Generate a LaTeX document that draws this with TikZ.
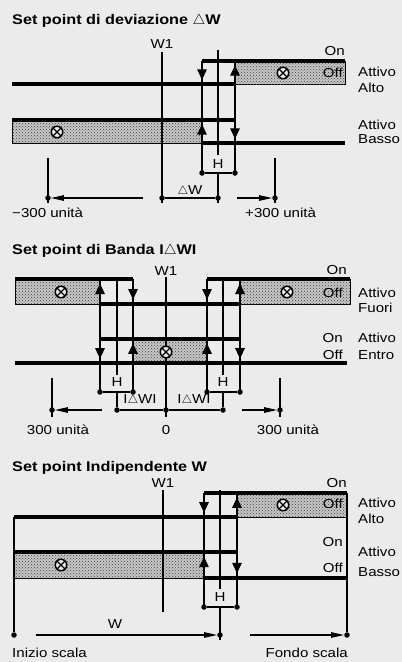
\documentclass[tikz,border=0pt]{standalone}
\usepackage{fontspec}
\setmainfont[FakeStretch=1.16]{Liberation Sans}
\usepackage{tikz}
\usetikzlibrary{arrows.meta,patterns,decorations.markings}
\tikzstyle{bar}=[line width=3.2pt]
\tikzstyle{fine}=[line width=1.2pt]
\tikzstyle{litzone}=[fill=black!22,postaction={pattern=crosshatch dots,pattern color=black!75},draw,line width=1pt]
\tikzstyle{trip}=[line width=1.2pt,postaction={decorate},decoration={markings,mark=at position 0.82 with {\arrow{Triangle[width=9.5pt,length=10.5pt]}}}]
\tikzstyle{knot}=[circle,fill,inner sep=0pt,minimum size=5.5pt]
\tikzstyle{span}=[line width=1.2pt,-{Triangle[length=13pt,width=5.5pt]}]
\tikzstyle{lamp}=[circle,draw,line width=1.5pt,fill=black!8,minimum size=11.5pt,inner sep=0pt,path picture={\draw[line width=1.4pt] (path picture bounding box.north west) -- (path picture bounding box.south east) (path picture bounding box.north east) -- (path picture bounding box.south west);}]
\tikzstyle{lbl}=[font=\fontsize{13}{15}\selectfont,inner sep=0pt]
\tikzstyle{ttl}=[font=\bfseries\fontsize{14}{16}\selectfont,inner sep=0pt,anchor=base west]

\begin{document}
\begin{tikzpicture}[x=1pt,y=-1pt]
	\fill[black!8] (0,0) rectangle (402,662);
	\useasboundingbox (0,0) rectangle (402,662);

	\node[ttl] (t1) at (12,24) {Set point di deviazione $\triangle$W};
	\draw[litzone] (235,61) rectangle (345,84);
	\draw[litzone] (12,120) rectangle (202,143);
	\draw[bar] (202,61) -- (345,61);
	\draw[bar] (12,84) -- (235,84);
	\draw[bar] (12,120) -- (235,120);
	\draw[bar] (202,143) -- (345,143);
	\draw[fine] (202,61) -- (202,173);
	\draw[fine] (235,61) -- (235,173);
	\draw[fine] (218,50) -- (218,155);
	\draw[fine] (162,52) -- (162,203);
	\draw[trip] (202,61) -- (202,84);
	\draw[trip] (235,84) -- (235,61);
	\draw[trip] (202,143) -- (202,120);
	\draw[trip] (235,120) -- (235,143);
	\node[lamp] (l1) at (283,73) {};
	\node[lamp] (l2) at (57,132) {};
	\node[lbl,anchor=base] (w1a) at (162,48) {W1};
	\node[lbl,anchor=base east] (on1) at (345,55) {On};
	\node[lbl,anchor=base east] (off1) at (343,77) {Off};
	\node[lbl,anchor=base west] (at1) at (358,76) {Attivo};
	\node[lbl,anchor=base west] (al1) at (358,92) {Alto};
	\node[lbl,anchor=base west] (at2) at (358,129) {Attivo};
	\node[lbl,anchor=base west] (ba2) at (358,143) {Basso};
	\node[knot] (h1l) at (202,173) {};
	\node[knot] (h1r) at (235,173) {};
	\draw[fine] (h1l) -- (h1r);
	\node[lbl] (h1) at (218,164) {H};
	\coordinate (h1m) at (218,173);
	\coordinate (h1e) at (218,203);
	\draw[fine] (h1m) -- (h1e);
	\node[knot] (w1d) at (162,198) {};
	\node[knot] (dw1) at (218,198) {};
	\draw[fine] (w1d) -- (dw1);
	\node[lbl,anchor=base] (dwl) at (190,194) {$\triangle$W};
	\node[knot] (m300) at (48,198) {};
	\node[knot] (p300) at (275,198) {};
	\draw[fine] (48,158) -- (48,203);
	\draw[fine] (275,158) -- (275,203);
	\coordinate (s1a) at (143,198);
	\coordinate (s1b) at (237,198);
	\draw[span] (s1a) -- (m300);
	\draw[span] (s1b) -- (p300);
	\node[lbl,anchor=base west] (u1) at (12,217) {−300 unità};
	\node[lbl,anchor=base west] (u2) at (245,217) {+300 unità};

	\node[ttl] (t2) at (12,254) {Set point di Banda I$\triangle$WI};
	\draw[litzone] (15,279) rectangle (100,304);
	\draw[litzone] (240,279) rectangle (350,304);
	\draw[litzone] (133,339) rectangle (207,363);
	\draw[bar] (15,279) -- (133,279);
	\draw[bar] (207,279) -- (350,279);
	\draw[bar] (100,304) -- (240,304);
	\draw[bar] (100,339) -- (240,339);
	\draw[bar] (15,363) -- (347,363);
	\draw[fine] (100,279) -- (100,392);
	\draw[fine] (133,279) -- (133,392);
	\draw[fine] (207,279) -- (207,392);
	\draw[fine] (240,279) -- (240,392);
	\draw[fine] (117,279) -- (117,375);
	\draw[fine] (223,279) -- (223,375);
	\draw[fine] (166,277) -- (166,417);
	\draw[trip] (100,304) -- (100,279);
	\draw[trip] (133,279) -- (133,304);
	\draw[trip] (207,279) -- (207,304);
	\draw[trip] (240,304) -- (240,279);
	\draw[trip] (100,339) -- (100,363);
	\draw[trip] (133,363) -- (133,339);
	\draw[trip] (207,363) -- (207,339);
	\draw[trip] (240,339) -- (240,363);
	\node[lamp] (l3) at (61,292) {};
	\node[lamp] (l4) at (287,292) {};
	\node[lamp] (l5) at (166,352) {};
	\node[lbl,anchor=base] (w1b) at (166,275) {W1};
	\node[lbl,anchor=base east] (on3) at (347,274) {On};
	\node[lbl,anchor=base east] (off3) at (343,297) {Off};
	\node[lbl,anchor=base west] (at3) at (358,297) {Attivo};
	\node[lbl,anchor=base west] (fu3) at (358,312) {Fuori};
	\node[lbl,anchor=base east] (on4) at (343,342) {On};
	\node[lbl,anchor=base east] (off4) at (343,359) {Off};
	\node[lbl,anchor=base west] (at4) at (358,342) {Attivo};
	\node[lbl,anchor=base west] (en4) at (358,359) {Entro};
	\node[knot] (h2a) at (100,392) {};
	\node[knot] (h2b) at (133,392) {};
	\node[knot] (h2c) at (207,392) {};
	\node[knot] (h2d) at (240,392) {};
	\draw[fine] (h2a) -- (h2b);
	\draw[fine] (h2c) -- (h2d);
	\node[lbl] (h2) at (117,382) {H};
	\node[lbl] (h3) at (223,382) {H};
	\node[knot] (bl) at (117,410) {};
	\node[knot] (zero) at (166,410) {};
	\node[knot] (br) at (223,410) {};
	\draw[fine] (117,392) -- (bl);
	\draw[fine] (223,392) -- (br);
	\draw[fine] (bl) -- (zero) -- (br);
	\node[lbl,anchor=base] (dw2) at (140,403) {I$\triangle$WI};
	\node[lbl,anchor=base] (dw3) at (194,403) {I$\triangle$WI};
	\node[knot] (m2) at (52,410) {};
	\node[knot] (p2) at (280,410) {};
	\draw[fine] (52,378) -- (52,417);
	\draw[fine] (280,378) -- (280,417);
	\coordinate (s2a) at (102,410);
	\coordinate (s2b) at (242,410);
	\draw[span] (s2a) -- (m2);
	\draw[span] (s2b) -- (p2);
	\node[lbl,anchor=base] (u3) at (58,434) {300 unità};
	\node[lbl,anchor=base] (u0) at (166,434) {0};
	\node[lbl,anchor=base] (u4) at (288,434) {300 unità};

	\node[ttl] (t3) at (12,471) {Set point Indipendente W};
	\draw[litzone] (237,493) rectangle (347,517);
	\draw[litzone] (14,552) rectangle (204,578);
	\draw[bar] (204,493) -- (347,493);
	\draw[bar] (14,517) -- (237,517);
	\draw[bar] (14,552) -- (237,552);
	\draw[bar] (204,578) -- (347,578);
	\draw[fine] (204,493) -- (204,607);
	\draw[fine] (237,493) -- (237,607);
	\draw[fine] (220,490) -- (220,589);
	\draw[fine] (163,490) -- (163,612);
	\draw[trip] (204,493) -- (204,517);
	\draw[trip] (237,517) -- (237,493);
	\draw[trip] (204,578) -- (204,552);
	\draw[trip] (237,552) -- (237,578);
	\node[lamp] (l6) at (283,505) {};
	\node[lamp] (l7) at (61,565) {};
	\node[lbl,anchor=base] (w1c) at (163,487) {W1};
	\node[lbl,anchor=base east] (on5) at (347,487) {On};
	\node[lbl,anchor=base east] (off5) at (343,508) {Off};
	\node[lbl,anchor=base west] (at5) at (358,507) {Attivo};
	\node[lbl,anchor=base west] (al5) at (358,523) {Alto};
	\node[lbl,anchor=base east] (on6) at (343,546) {On};
	\node[lbl,anchor=base east] (off6) at (343,572) {Off};
	\node[lbl,anchor=base west] (at6) at (358,556) {Attivo};
	\node[lbl,anchor=base west] (ba6) at (358,576) {Basso};
	\node[knot] (h4a) at (204,607) {};
	\node[knot] (h4b) at (237,607) {};
	\draw[fine] (h4a) -- (h4b);
	\node[lbl] (h4) at (220,597) {H};
	\node[knot] (ini) at (14,635) {};
	\node[knot] (wpt) at (220,635) {};
	\node[knot] (fon) at (347,635) {};
	\draw[fine] (14,517) -- (ini);
	\draw[fine] (347,493) -- (fon);
	\coordinate (h4m) at (220,607);
	\coordinate (h4e) at (220,640);
	\draw[fine] (h4m) -- (h4e);
	\coordinate (s3a) at (36,635);
	\coordinate (s3b) at (250,635);
	\draw[span] (s3a) -- (wpt);
	\draw[span] (s3b) -- (fon);
	\node[lbl,anchor=base] (wl) at (115,628) {W};
	\node[lbl,anchor=base west] (u5) at (12,657) {Inizio scala};
	\node[lbl,anchor=base east] (u6) at (348,657) {Fondo scala};
\end{tikzpicture}
\end{document}
